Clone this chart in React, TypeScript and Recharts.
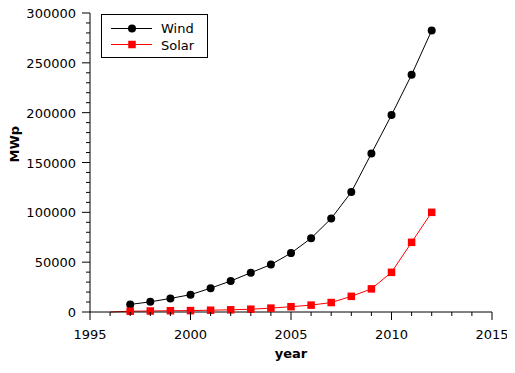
import React from 'react';
import { LineChart, Line, XAxis, YAxis } from 'recharts';

const years = [1996, 1997, 1998, 1999, 2000, 2001, 2002, 2003, 2004, 2005, 2006, 2007, 2008, 2009, 2010, 2011, 2012];
const wind = [null, 7600, 10200, 13600, 17400, 23900, 31100, 39400, 47600, 59100, 74000, 93800, 120300, 159000, 197600, 238000, 282500];
const solar = [0, 800, 1000, 1300, 1400, 1800, 2200, 2800, 3900, 5300, 6900, 9500, 15700, 23200, 39800, 69900, 100000];
const xTicks = [1995, 1996, 1997, 1998, 1999, 2000, 2001, 2002, 2003, 2004, 2005, 2006, 2007, 2008, 2009, 2010, 2011, 2012, 2013, 2014, 2015];
const yMajorStep = 50000;
const yTicks = Array.from({ length: 31 }, (_, i) => i * 10000);
const seriesNames = ['Wind', 'Solar'];

const data = years.map((y, i) => ({ year: y, wind: wind[i], solar: solar[i] }));

const XTick = (props: any) => {
  const { x, y, payload } = props;
  const major = payload.value % 5 === 0;
  return (
    <g>
      <line x1={x} x2={x} y1={y} y2={y + (major ? 8 : 4)} stroke="#000" strokeWidth={1} />
      {major && (
        <text x={x} y={y + 27} textAnchor="middle" fontSize={13} fill="#000">
          {payload.value}
        </text>
      )}
    </g>
  );
};

const YTick = (props: any) => {
  const { x, y, payload } = props;
  const major = payload.value % yMajorStep === 0;
  return (
    <g>
      <line x1={x} x2={x - (major ? 8 : 4)} y1={y} y2={y} stroke="#000" strokeWidth={1} />
      {major && (
        <text x={x - 14} y={y + 5} textAnchor="end" fontSize={13} fill="#000">
          {payload.value}
        </text>
      )}
    </g>
  );
};

const WindDot = (props: any) => {
  const { cx, cy, value, index } = props;
  if (value == null || cx == null || cy == null) return <g key={`w${index}`} />;
  return <circle key={`w${index}`} cx={cx} cy={cy} r={4} fill="#000" />;
};

const SolarDot = (props: any) => {
  const { cx, cy, index } = props;
  if (index === 0 || cx == null || cy == null) return <g key={`s${index}`} />;
  return <rect key={`s${index}`} x={cx - 3.75} y={cy - 3.75} width={7.5} height={7.5} fill="#f00" />;
};

const LegendBox = () => (
  <div
    style={{
      position: 'absolute',
      left: 93,
      top: 6,
      border: '1px solid #000',
      width: 105,
      height: 42,
      background: '#fff',
    }}
  >
    <svg width={105} height={42} style={{ position: 'absolute', left: 0, top: 0 }}>
      <line x1={9} x2={50} y1={13.5} y2={13.5} stroke="#000" strokeWidth={1} />
      <circle cx={30} cy={13.5} r={4} fill="#000" />
      <text x={59} y={18} fontSize={13} fill="#000">{seriesNames[0]}</text>
      <line x1={9} x2={50} y1={29.5} y2={29.5} stroke="#f00" strokeWidth={1} />
      <rect x={26.25} y={25.75} width={7.5} height={7.5} fill="#f00" />
      <text x={59} y={35} fontSize={13} fill="#000">{seriesNames[1]}</text>
    </svg>
  </div>
);

export default function App() {
  return (
    <div style={{ fontFamily: 'DejaVu Sans', width: 500, height: 360, position: 'relative' }}>
      <LineChart
        width={500}
        height={360}
        data={data}
        margin={{ top: 5, right: 16, bottom: 0, left: 0 }}
        style={{ overflow: 'visible' }}
      >
        <XAxis
          dataKey="year"
          type="number"
          domain={[1995, 2015]}
          ticks={xTicks}
          interval={0}
          tickSize={0}
          tickMargin={0}
          tickLine={false}
          tick={<XTick />}
          axisLine={{ stroke: '#000' }}
          height={56}
          label={{ value: 'year', position: 'insideBottom', offset: 10, fontSize: 13, fontWeight: 'bold', fill: '#000' }}
        />
        <YAxis
          type="number"
          domain={[0, 300000]}
          ticks={yTicks}
          interval={0}
          tickSize={0}
          tickMargin={0}
          tickLine={false}
          tick={<YTick />}
          axisLine={{ stroke: '#000' }}
          width={82}
          label={{ value: 'MWp', angle: -90, position: 'insideLeft', offset: 6, fontSize: 13, fontWeight: 'bold', fill: '#000' }}
        />
        <Line
          dataKey="wind"
          name={seriesNames[0]}
          stroke="#000"
          strokeWidth={1}
          dot={WindDot}
          activeDot={false}
          isAnimationActive={false}
        />
        <Line
          dataKey="solar"
          name={seriesNames[1]}
          stroke="#f00"
          strokeWidth={1}
          dot={SolarDot}
          activeDot={false}
          isAnimationActive={false}
        />
      </LineChart>
      <LegendBox />
    </div>
  );
}
